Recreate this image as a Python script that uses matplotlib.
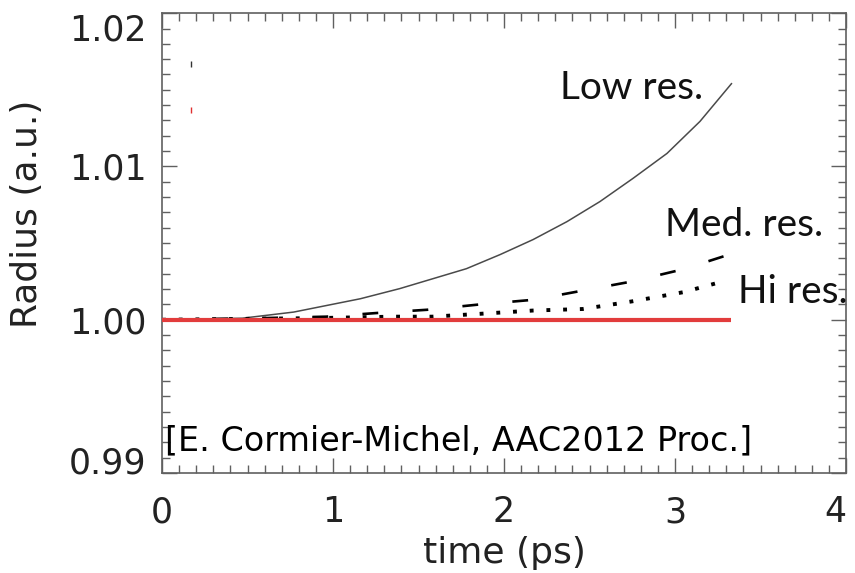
import matplotlib
matplotlib.use("Agg")
import matplotlib.pyplot as plt
from matplotlib.ticker import MultipleLocator

# values
t_low = [0.0, 0.47, 0.77, 1.16, 1.39, 1.585, 1.78, 1.977, 2.17, 2.368,
         2.561, 2.754, 2.953, 3.146, 3.33]
r_low = [1.0, 1.0001, 1.0005, 1.00137, 1.00203, 1.00268, 1.00333, 1.00425,
         1.00523, 1.0064, 1.00771, 1.00922, 1.01085, 1.01294, 1.0154]

t_med = [0.0, 0.57, 0.96, 1.27, 1.55, 1.86, 2.17, 2.46, 2.75, 3.05, 3.33]
r_med = [1.0, 1.0001, 1.0002, 1.00045, 1.00065, 1.001, 1.0013, 1.0019,
         1.0025, 1.0033, 1.0043]

t_hi = [0.0, 0.87, 1.35, 1.58, 1.88, 2.17, 2.46, 2.75, 3.05, 3.28]
r_hi = [1.0, 1.0001, 1.0002, 1.0002, 1.0004, 1.0006, 1.0007, 1.0012,
        1.0018, 1.0025]

t_ref = [0.0, 3.33]
r_ref = [1.0, 1.0]

labels = ["Low res.", "Med. res.", "Hi res."]
label_pos = [(2.33, 1.0151), (2.94, 1.0062), (3.37, 1.0018)]
citation = "[E. Cormier-Michel, AAC2012 Proc.]"


def main():
    fig = plt.figure(figsize=(8.55, 5.73), dpi=100)
    ax = fig.add_axes([0.1895, 0.1745, 0.80, 0.8025])

    ax.plot(t_ref, r_ref, color="#e23c3c", lw=3, solid_capstyle="butt", zorder=3)
    ax.plot(t_low, r_low, color="#4a4a4a", lw=1.1)
    ax.plot(t_med, r_med, color="black", lw=1.9, dashes=(6, 13))
    ax.plot(t_hi, r_hi, color="black", lw=2.8, dashes=(1, 3.3), dash_capstyle="butt")

    # leftover legend marks
    ax.plot([0.17], [1.0167], marker="|", color="#333333", ms=5, mew=1)
    ax.plot([0.17], [1.0137], marker="|", color="#e03030", ms=5, mew=1)

    for lab, (x, y) in zip(labels, label_pos):
        ax.text(x, y, lab, family="Lato", fontsize=28, va="center", ha="left",
                color="#111111")
    ax.text(0.02, 0.9921, citation, family="DejaVu Sans", fontsize=24,
            va="center", ha="left")

    ax.set_xlim(0, 4)
    ax.set_ylim(0.99, 1.02)
    ax.xaxis.set_major_locator(MultipleLocator(1))
    ax.xaxis.set_minor_locator(MultipleLocator(0.1))
    ax.yaxis.set_major_locator(MultipleLocator(0.01))
    ax.yaxis.set_minor_locator(MultipleLocator(0.001))
    ax.yaxis.set_major_formatter(plt.FuncFormatter(lambda v, p: "%.2f" % v))

    ax.tick_params(which="both", direction="in", top=True, right=True,
                   color="#606060", width=1)
    ax.tick_params(which="major", length=11)
    ax.tick_params(which="minor", length=6)
    ax.tick_params(axis="x", which="major", pad=16, labelsize=25)
    ax.tick_params(axis="y", which="major", pad=11, labelsize=25)
    for s in ax.spines.values():
        s.set_color("#606060")
        s.set_linewidth(1.2)

    ax.set_xlabel("time (ps)", family="DejaVu Sans", fontsize=26,
                  color="#222222", labelpad=5)
    ax.set_ylabel("Radius (a.u.)", family="DejaVu Sans", fontsize=26,
                  color="#222222")
    ax.yaxis.set_label_coords(-0.172, 0.563)

    fig.canvas.draw()
    for lab in ax.get_xticklabels() + ax.get_yticklabels():
        lab.set_family("DejaVu Sans")
        lab.set_color("#222222")
        txt = lab.get_text()
        if txt == "0.99":
            lab.set_verticalalignment("baseline")
        elif txt == "1.02":
            lab.set_verticalalignment("top")
        elif txt == "4":
            lab.set_horizontalalignment("right")
            lab.set_x(3.97)

    fig.savefig("out.png", dpi=100)


if __name__ == "__main__":
    main()
